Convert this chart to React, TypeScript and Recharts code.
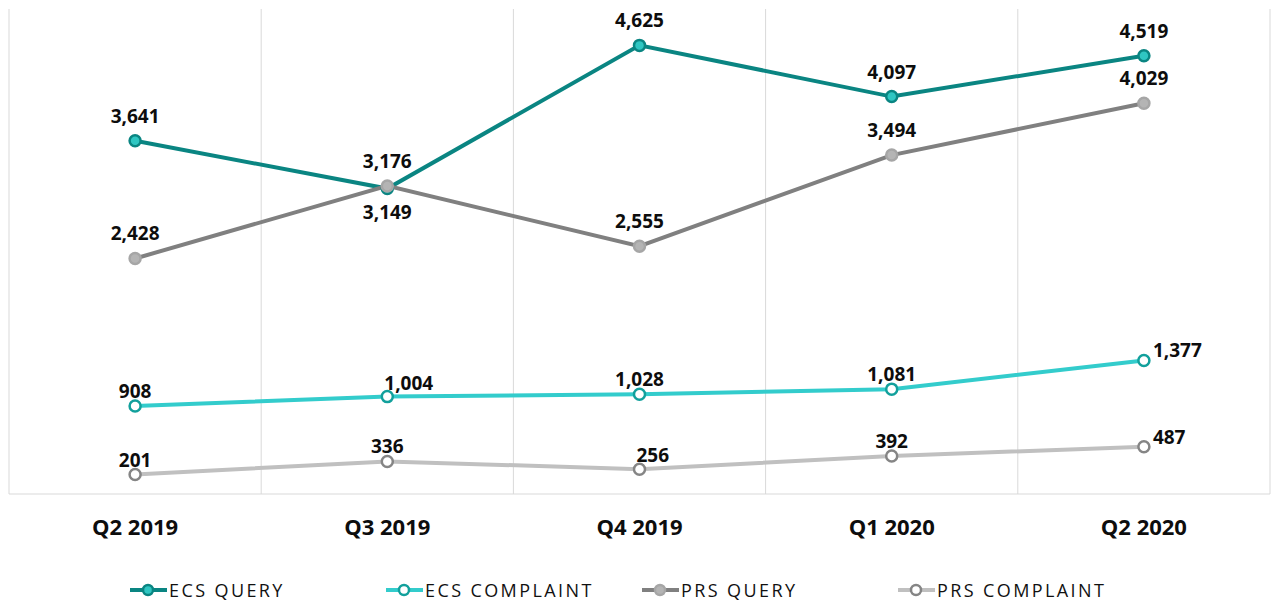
import { LineChart, Line, XAxis, YAxis, CartesianGrid, LabelList } from 'recharts';

const quarters = ['Q2 2019', 'Q3 2019', 'Q4 2019', 'Q1 2020', 'Q2 2020'];
const ecsQuery = [3641, 3149, 4625, 4097, 4519];
const ecsComplaint = [908, 1004, 1028, 1081, 1377];
const prsQuery = [2428, 3176, 2555, 3494, 4029];
const prsComplaint = [201, 336, 256, 392, 487];

const data = quarters.map((q, i) => ({
  q,
  ecsQuery: ecsQuery[i],
  ecsComplaint: ecsComplaint[i],
  prsQuery: prsQuery[i],
  prsComplaint: prsComplaint[i],
}));

const FONT = '"Open Sans", "Noto Sans", sans-serif';

// where each data label sits relative to its point
type Side = 'top' | 'near' | 'topRight' | 'right' | 'below';
const LABEL_SIDES: Record<string, Side[]> = {
  ecsQuery: ['top', 'below', 'top', 'top', 'top'],
  ecsComplaint: ['near', 'topRight', 'near', 'near', 'right'],
  prsQuery: ['top', 'top', 'top', 'top', 'top'],
  prsComplaint: ['near', 'near', 'topRight', 'near', 'right'],
};

const SERIES = [
  { key: 'ecsQuery', name: 'ECS QUERY', line: '#0a8582', dotFill: '#2fc6c2', dotStroke: '#0a8582' },
  { key: 'ecsComplaint', name: 'ECS COMPLAINT', line: '#33cccc', dotFill: '#ffffff', dotStroke: '#12a09c' },
  { key: 'prsQuery', name: 'PRS QUERY', line: '#808080', dotFill: '#b4b4b4', dotStroke: '#a6a6a6' },
  { key: 'prsComplaint', name: 'PRS COMPLAINT', line: '#c0c0c0', dotFill: '#ffffff', dotStroke: '#858585' },
];

function makeLabel(key: string) {
  return (props: any) => {
    const { x, y, value, index } = props;
    const side = LABEL_SIDES[key][index];
    const text = Number(value).toLocaleString('en-US');
    let tx = x;
    let ty = y - 18;
    let anchor: 'middle' | 'start' = 'middle';
    if (side === 'near') ty = y - 8;
    if (side === 'below') ty = y + 30;
    if (side === 'topRight') {
      tx = x - 3;
      ty = y - 7;
      anchor = 'start';
    }
    if (side === 'right') {
      tx = x + 9;
      ty = y - 3;
      anchor = 'start';
    }
    return (
      <text x={tx} y={ty} textAnchor={anchor} fontFamily={FONT} fontSize={19} fontWeight={700} fill="#0d0d0d">
        {text}
      </text>
    );
  };
}

function LegendIcon({ s }: { s: (typeof SERIES)[number] }) {
  return (
    <svg width={37} height={14} style={{ marginRight: 2 }}>
      <line x1={0} y1={7} x2={37} y2={7} stroke={s.line} strokeWidth={4} />
      <circle cx={18} cy={7} r={5} fill={s.dotFill} stroke={s.dotStroke} strokeWidth={2.5} />
    </svg>
  );
}

export default function App() {
  return (
    <div style={{ position: 'absolute', left: 0, top: 0, width: 1272, height: 602, background: '#fff' }}>
      <LineChart width={1272} height={602} data={data} margin={{ top: 9, right: 2, left: 9, bottom: 48 }}>
        <CartesianGrid
          stroke="#d9d9d9"
          horizontal={false}
          verticalCoordinatesGenerator={({ offset }: any) =>
            quarters.map((_, i) => offset.left + (i * offset.width) / quarters.length).concat(offset.left + offset.width)
          }
        />
        <XAxis
          dataKey="q"
          scale="band"
          axisLine={{ stroke: '#d9d9d9' }}
          tickLine={false}
          tickSize={0}
          tickMargin={25}
          height={60}
          tick={{ fontFamily: FONT, fontSize: 22, fontWeight: 700, fill: '#0d0d0d' }}
        />
        <YAxis hide domain={[0, 5000]} />
        {SERIES.map((s) => (
          <Line
            key={s.key}
            dataKey={s.key}
            name={s.name}
            type="linear"
            stroke={s.line}
            strokeWidth={4}
            dot={{ r: 5.5, fill: s.dotFill, stroke: s.dotStroke, strokeWidth: 2.5 }}
            activeDot={false}
            isAnimationActive={false}
          />
        ))}
        {SERIES.map((s) => (
          <Line
            key={s.key + '-labels'}
            dataKey={s.key}
            stroke="none"
            dot={false}
            activeDot={false}
            legendType="none"
            isAnimationActive={false}
          >
            <LabelList dataKey={s.key} content={makeLabel(s.key)} />
          </Line>
        ))}
      </LineChart>
      <div
        style={{
          position: 'absolute',
          left: 6,
          top: 578,
          width: 1272,
          display: 'flex',
          justifyContent: 'center',
          fontFamily: FONT,
          fontSize: 18,
          letterSpacing: 2.4,
          color: '#111',
        }}
      >
        {SERIES.map((s) => (
          <div key={s.key} style={{ display: 'flex', alignItems: 'center', width: 256 }}>
            <LegendIcon s={s} />
            <span>{s.name}</span>
          </div>
        ))}
      </div>
    </div>
  );
}
